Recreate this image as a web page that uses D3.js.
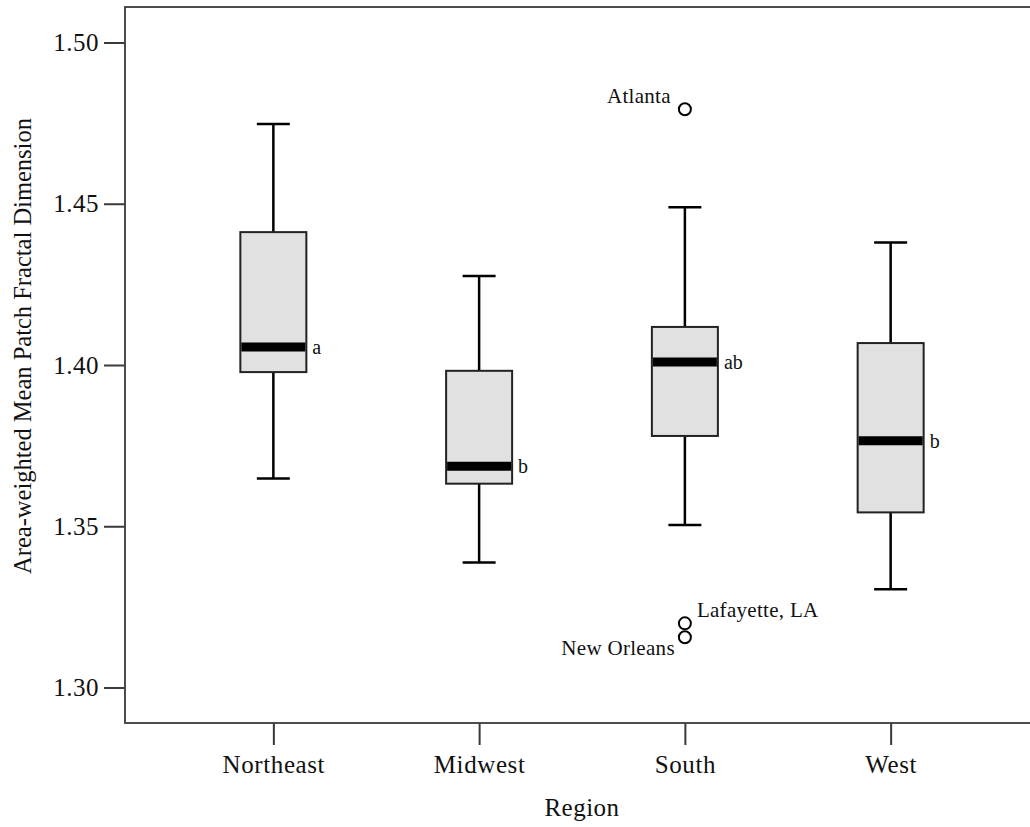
<!DOCTYPE html>
<html>
<head>
<meta charset="utf-8">
<script src="https://cdn.jsdelivr.net/npm/d3@7"></script>
<style>
  html, body { margin: 0; padding: 0; background: #fff; }
  svg { display: block; }
  text { font-family: "Liberation Serif", "Times New Roman", serif; fill: #111; }
</style>
</head>
<body>
<svg id="chart" width="1030" height="827"></svg>
<script>
// Box-plot summary per region
const regions = ["Northeast", "Midwest", "South", "West"];
const whiskerLow  = [1.3648, 1.3388, 1.3504, 1.3305];
const q1          = [1.3978, 1.3632, 1.3780, 1.3543];
const median      = [1.4056, 1.3686, 1.4009, 1.3765];
const q3          = [1.4412, 1.3982, 1.4118, 1.4068];
const whiskerHigh = [1.4747, 1.4276, 1.4489, 1.4380];
const groupLetters = ["a", "b", "ab", "b"];

// Outlying cities
const outlierRegion = ["South", "South", "South"];
const outlierValue  = [1.4793, 1.3199, 1.3156];
const outlierName   = ["Atlanta", "Lafayette, LA", "New Orleans"];

const yTicks = [1.30, 1.35, 1.40, 1.45, 1.50];

// Where each city label sits relative to its circle
const labelPlacement = {
  "Atlanta":       { anchor: "end",   dx: -14, dy: -6 },
  "Lafayette, LA": { anchor: "start", dx: 12,  dy: -6 },
  "New Orleans":   { anchor: "end",   dx: -10, dy: 18 }
};

const svg = d3.select("#chart");
const frame = { left: 125, top: 7, bottom: 723, right: 1039 };

const x = d3.scalePoint()
  .domain(regions)
  .range([frame.left, frame.right])
  .padding(0.721);

const y = d3.scaleLinear()
  .domain([1.289, 1.511])
  .range([frame.bottom, frame.top]);

const axisColor = "#3a3a3a";
const serif = "'Liberation Serif', 'Times New Roman', serif";

// Plot frame
svg.append("rect")
  .attr("x", frame.left).attr("y", frame.top)
  .attr("width", frame.right - frame.left)
  .attr("height", frame.bottom - frame.top)
  .attr("fill", "none")
  .attr("stroke", axisColor)
  .attr("stroke-width", 1.8);

// Y axis
const yAxis = svg.append("g")
  .attr("transform", `translate(${frame.left},0)`)
  .call(d3.axisLeft(y).tickValues(yTicks).tickFormat(d3.format(".2f"))
    .tickSize(21).tickPadding(5));
yAxis.select(".domain").remove();
yAxis.selectAll(".tick line").attr("stroke", axisColor).attr("stroke-width", 2);
yAxis.selectAll(".tick text")
  .style("font-family", serif)
  .style("font-size", "25px")
  .style("letter-spacing", "0.5px")
  .attr("fill", "#111");

// X axis
const xAxis = svg.append("g")
  .attr("transform", `translate(0,${frame.bottom})`)
  .call(d3.axisBottom(x).tickSize(22).tickPadding(10));
xAxis.select(".domain").remove();
xAxis.selectAll(".tick line").attr("stroke", axisColor).attr("stroke-width", 2);
xAxis.selectAll(".tick text")
  .style("font-family", serif)
  .style("font-size", "25px")
  .style("letter-spacing", "0.6px")
  .attr("fill", "#111");

// Axis titles
svg.append("text")
  .attr("x", 582)
  .attr("y", 816)
  .attr("text-anchor", "middle")
  .style("font-size", "25px")
  .style("letter-spacing", "0.5px")
  .text("Region");

svg.append("text")
  .attr("transform", `translate(31,346) rotate(-90)`)
  .attr("text-anchor", "middle")
  .style("font-size", "24.5px")
  .text("Area-weighted Mean Patch Fractal Dimension");

// Boxes
const boxW = 66, capW = 33;
const boxes = svg.append("g");
regions.forEach((r, i) => {
  const cx = x(r);
  const g = boxes.append("g");
  // whiskers
  g.append("line")
    .attr("x1", cx).attr("x2", cx)
    .attr("y1", y(q3[i])).attr("y2", y(whiskerHigh[i]))
    .attr("stroke", "#000").attr("stroke-width", 2.5);
  g.append("line")
    .attr("x1", cx).attr("x2", cx)
    .attr("y1", y(q1[i])).attr("y2", y(whiskerLow[i]))
    .attr("stroke", "#000").attr("stroke-width", 2.5);
  [whiskerHigh[i], whiskerLow[i]].forEach(v => {
    g.append("line")
      .attr("x1", cx - capW / 2).attr("x2", cx + capW / 2)
      .attr("y1", y(v)).attr("y2", y(v))
      .attr("stroke", "#000").attr("stroke-width", 2.5);
  });
  // box
  g.append("rect")
    .attr("x", cx - boxW / 2)
    .attr("y", y(q3[i]))
    .attr("width", boxW)
    .attr("height", y(q1[i]) - y(q3[i]))
    .attr("fill", "#e1e1e1")
    .attr("stroke", "#222")
    .attr("stroke-width", 2);
  // median
  g.append("line")
    .attr("x1", cx - boxW / 2 + 1).attr("x2", cx + boxW / 2 - 1)
    .attr("y1", y(median[i])).attr("y2", y(median[i]))
    .attr("stroke", "#000").attr("stroke-width", 9);
  // group letter
  g.append("text")
    .attr("x", cx + boxW / 2 + 6)
    .attr("y", y(median[i]) + 7)
    .style("font-size", "20px")
    .text(groupLetters[i]);
});

// Outliers
const outliers = svg.append("g");
outlierValue.forEach((v, i) => {
  const cx = x(outlierRegion[i]);
  const cy = y(v);
  outliers.append("circle")
    .attr("cx", cx).attr("cy", cy).attr("r", 6)
    .attr("fill", "#fff").attr("stroke", "#000").attr("stroke-width", 2);
  const p = labelPlacement[outlierName[i]];
  outliers.append("text")
    .attr("x", cx + p.dx)
    .attr("y", cy + p.dy)
    .attr("text-anchor", p.anchor)
    .style("font-size", "21px")
    .style("letter-spacing", "0.3px")
    .text(outlierName[i]);
});
</script>
</body>
</html>
